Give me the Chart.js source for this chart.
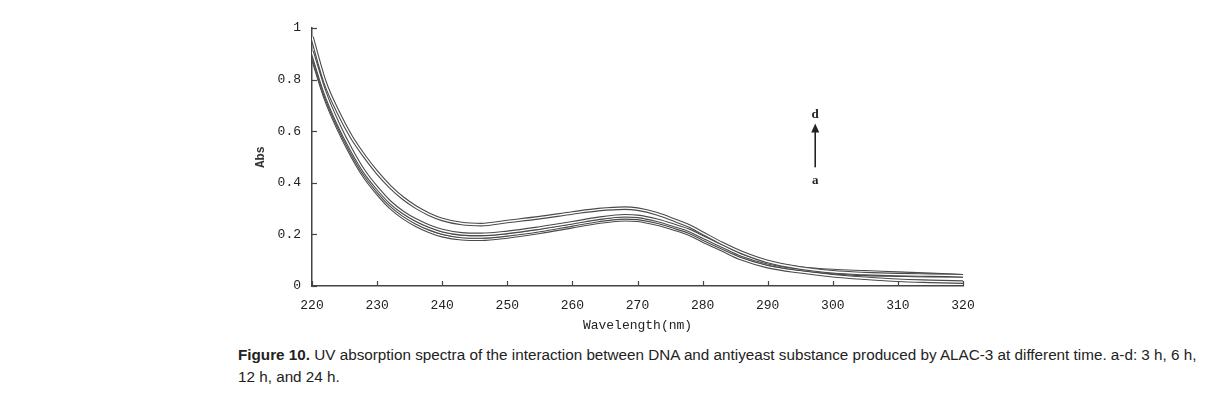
<!DOCTYPE html>
<html>
<head>
<meta charset="utf-8">
<script src="https://cdn.jsdelivr.net/npm/chart.js@4.4.1/dist/chart.umd.min.js"></script>
<style>
  html, body { margin: 0; padding: 0; background: #fff; }
  #wrap { position: relative; width: 1210px; height: 401px; }
  #chartBox { position: absolute; left: 0; top: 0; width: 1210px; height: 340px; }
  #caption {
    position: absolute; left: 238px; top: 344px;
    font-family: "Liberation Sans", Arial, sans-serif; font-size: 15.25px;
    line-height: 22px; color: #222;
  }
</style>
</head>
<body>
<div id="wrap">
  <div id="chartBox"><canvas id="uvChart" width="1210" height="340"></canvas></div>
  <div id="caption"><b>Figure 10.</b> UV absorption spectra of the interaction between DNA and antiyeast substance produced by ALAC-3 at different time. a-d: 3 h, 6 h,<br>12 h, and 24 h.</div>
</div>
<script>
// wavelength (nm)
const wavelengths = [220, 222, 224, 226, 228, 230, 232, 234, 236, 238, 240, 243, 246, 250, 255, 260,
    264, 268, 270, 273, 276, 278, 280, 283, 286, 290, 295, 300, 305, 310, 315, 320];

// absorbance, a-d: 3 h, 6 h, 12 h, 24 h
const absA = [0.89, 0.73, 0.61, 0.51, 0.425, 0.36, 0.305, 0.265, 0.235, 0.212, 0.195, 0.183, 0.181, 0.19, 0.208, 0.23,
    0.247, 0.257, 0.255, 0.24, 0.218, 0.2, 0.175, 0.14, 0.105, 0.075, 0.055, 0.04, 0.03, 0.022, 0.018, 0.015];
const absB = [0.90, 0.74, 0.62, 0.52, 0.435, 0.37, 0.315, 0.275, 0.245, 0.222, 0.205, 0.192, 0.19, 0.198, 0.215, 0.237,
    0.254, 0.264, 0.262, 0.248, 0.225, 0.208, 0.183, 0.148, 0.115, 0.085, 0.065, 0.052, 0.045, 0.042, 0.04, 0.04];
const absC = [0.91, 0.75, 0.63, 0.53, 0.445, 0.38, 0.325, 0.285, 0.255, 0.232, 0.215, 0.202, 0.2, 0.208, 0.225, 0.245,
    0.262, 0.272, 0.27, 0.255, 0.232, 0.215, 0.19, 0.155, 0.12, 0.09, 0.07, 0.06, 0.055, 0.05, 0.045, 0.04];
const absD = [0.965, 0.79, 0.675, 0.58, 0.505, 0.44, 0.385, 0.34, 0.305, 0.278, 0.258, 0.242, 0.238, 0.25, 0.265, 0.283,
    0.296, 0.302, 0.298, 0.28, 0.252, 0.232, 0.205, 0.165, 0.13, 0.095, 0.07, 0.055, 0.048, 0.044, 0.042, 0.04];

const xTicks = [220, 230, 240, 250, 260, 270, 280, 290, 300, 310, 320];
const yTickLabels = ["0", "0.2", "0.4", "0.6", "0.8", "1"];

const seriesList = [absA, absB, absC, absD];

// each curve is drawn as a hollow line: dark wide stroke, then thin white stroke on top
const datasets = [];
seriesList.forEach(function (vals, i) {
    const pts = wavelengths.map(function (w, j) { return { x: w, y: vals[j] }; });
    datasets.push({
        data: pts, borderColor: "#4a4a4a", borderWidth: 3.6,
        pointRadius: 0, cubicInterpolationMode: "monotone", order: 100 - i * 2
    });
    datasets.push({
        data: pts, borderColor: "#ffffff", borderWidth: 1.4,
        pointRadius: 0, cubicInterpolationMode: "monotone", order: 99 - i * 2
    });
});

const tickFont = { family: "'Liberation Mono', monospace", size: 13 };

// inward tick marks and the a -> d arrow
const extrasPlugin = {
    id: "extras",
    afterDraw: function (chart) {
        const c = chart.ctx;
        const xs = chart.scales.x, ys = chart.scales.y;
        const area = chart.chartArea;
        c.save();
        c.strokeStyle = "#444";
        c.lineWidth = 1.2;
        xTicks.forEach(function (v) {
            const px = Math.round(xs.getPixelForValue(v)) + 0.5;
            c.beginPath(); c.moveTo(px, area.bottom); c.lineTo(px, area.bottom - 5); c.stroke();
        });
        yTickLabels.forEach(function (t) {
            const py = Math.round(ys.getPixelForValue(parseFloat(t))) + 0.5;
            c.beginPath(); c.moveTo(area.left, py); c.lineTo(area.left + 5, py); c.stroke();
        });

        // arrow annotation
        const ax = xs.getPixelForValue(297.3);
        const yTop = ys.getPixelForValue(0.63), yBot = ys.getPixelForValue(0.46);
        c.strokeStyle = "#222"; c.fillStyle = "#222"; c.lineWidth = 1.6;
        c.beginPath(); c.moveTo(ax, yBot); c.lineTo(ax, yTop + 6); c.stroke();
        c.beginPath(); c.moveTo(ax, yTop); c.lineTo(ax - 4, yTop + 9); c.lineTo(ax + 4, yTop + 9); c.closePath(); c.fill();
        c.font = "bold 13px 'Liberation Serif', serif";
        c.textAlign = "center"; c.textBaseline = "middle";
        c.fillText("d", ax, ys.getPixelForValue(0.665));
        c.fillText("a", ax, ys.getPixelForValue(0.41));
        c.restore();
    }
};

const ctx = document.getElementById("uvChart").getContext("2d");
const uvChart = new Chart(ctx, {
    type: "line",
    data: { datasets: datasets },
    options: {
        responsive: false,
        animation: false,
        layout: { padding: { left: 240, right: 247, top: 28, bottom: 4 } },
        plugins: { legend: { display: false }, tooltip: { enabled: false } },
        scales: {
            x: {
                type: "linear", min: 220, max: 320,
                afterFit: function (scale) { scale.height = 50; },
                afterBuildTicks: function (scale) { scale.ticks = xTicks.map(function (v) { return { value: v }; }); },
                grid: { display: true, drawOnChartArea: false, drawTicks: false },
                border: { display: true, color: "#444", width: 1.5 },
                ticks: { font: tickFont, color: "#222", padding: 12, maxRotation: 0 },
                title: { display: true, text: "Wavelength(nm)", font: tickFont, color: "#222", padding: { top: 0, bottom: 3 } }
            },
            y: {
                min: 0, max: 1,
                afterFit: function (scale) { scale.width = 72; },
                afterBuildTicks: function (scale) { scale.ticks = yTickLabels.map(function (t) { return { value: parseFloat(t) }; }); },
                grid: { display: true, drawOnChartArea: false, drawTicks: false },
                border: { display: true, color: "#444", width: 1.5 },
                ticks: {
                    font: tickFont, color: "#222", padding: 11,
                    callback: function (v) { return yTickLabels[Math.round(v * 5)]; }
                },
                title: { display: true, text: "Abs", font: { family: "'Liberation Mono', monospace", size: 12, weight: "bold" }, color: "#333", padding: { top: 14, bottom: 0 } }
            }
        }
    },
    plugins: [extrasPlugin]
});
</script>
</body>
</html>
